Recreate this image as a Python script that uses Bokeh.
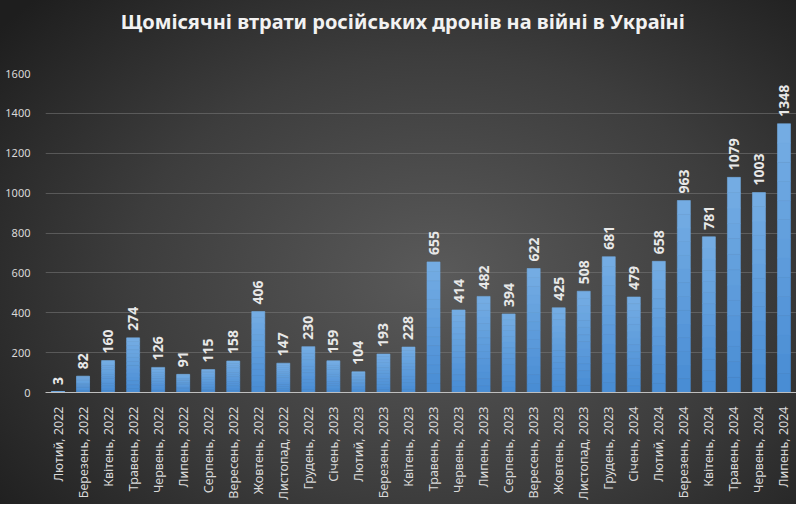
import math
from bokeh.plotting import figure
from bokeh.models import ColumnDataSource, FactorRange, Range1d, FixedTicker, Title
from bokeh.core.properties import value
from bokeh.embed import file_html
from bokeh.resources import INLINE

months = ["Лютий, 2022", "Березень, 2022", "Квітень, 2022", "Травень, 2022", "Червень, 2022",
          "Липень, 2022", "Серпень, 2022", "Вересень, 2022", "Жовтень, 2022", "Листопад, 2022",
          "Грудень, 2022", "Січень, 2023", "Лютий, 2023", "Березень, 2023", "Квітень, 2023",
          "Травень, 2023", "Червень, 2023", "Липень, 2023", "Серпень, 2023", "Вересень, 2023",
          "Жовтень, 2023", "Листопад, 2023", "Грудень, 2023", "Січень, 2024", "Лютий, 2024",
          "Березень, 2024", "Квітень, 2024", "Травень, 2024", "Червень, 2024", "Липень, 2024"]
losses = [3, 82, 160, 274, 126, 91, 115, 158, 406, 147,
          230, 159, 104, 193, 228, 655, 414, 482, 394, 622,
          425, 508, 681, 479, 658, 963, 781, 1079, 1003, 1348]
y_ticks = [0, 200, 400, 600, 800, 1000, 1200, 1400, 1600]
title_text = "Щомісячні  втрати  російських  дронів  на  війні  в  Україні"

FONT = "Noto Sans"

p = figure(width=796, height=504, x_range=FactorRange(*months, range_padding=0),
           y_range=Range1d(0, 1600), output_backend="svg", toolbar_location=None, title=None,
           min_border_left=45, min_border_right=0, min_border_top=73, min_border_bottom=112)
p.styles = {"background": "radial-gradient(ellipse 70% 80% at 55% 55%, #5a5a5a 0%, #3d3d3d 55%, #1e1e1e 100%)"}
p.background_fill_alpha = 0
p.border_fill_alpha = 0
p.outline_line_color = None

# spacer between frame and title, then the title itself
p.add_layout(Title(text=" ", text_font_size="33px", standoff=0), "above")
p.add_layout(Title(text=title_text, align="center", text_color="#f2f2f2",
                   text_font=FONT, text_font_size="20px", text_font_style="bold",
                   standoff=0), "above")

# gradient bars built from stacked slices
N = 14
c_bot = (0x48, 0x8c, 0xd4)
c_top = (0x76, 0xae, 0xe4)
xs, bots, tops, cols = [], [], [], []
for m, v in zip(months, losses):
    for k in range(N):
        t = (k + 0.5) / N
        r = int(c_bot[0] + (c_top[0] - c_bot[0]) * t)
        g = int(c_bot[1] + (c_top[1] - c_bot[1]) * t)
        b = int(c_bot[2] + (c_top[2] - c_bot[2]) * t)
        xs.append(m)
        bots.append(v * k / N)
        tops.append(v * (k + 1) / N)
        cols.append("#%02x%02x%02x" % (r, g, b))
p.vbar(x=xs, bottom=bots, top=tops, width=0.52, fill_color=cols, line_color=cols, line_width=0.6)

src = ColumnDataSource(dict(x=months, y=losses, t=[str(v) for v in losses]))
p.text(x="x", y="y", text="t", source=src, angle=math.pi / 2, text_align="left",
       text_baseline="middle", y_offset=-7, text_color="#e8e8e8",
       text_font=value(FONT), text_font_size="14px", text_font_style="bold")

# axes
p.xgrid.grid_line_color = None
p.ygrid.grid_line_color = "#7a7a7a"
p.ygrid.grid_line_alpha = 0.55
p.ygrid.ticker = FixedTicker(ticks=y_ticks)

p.yaxis.ticker = FixedTicker(ticks=y_ticks)
p.yaxis.axis_line_color = None
p.yaxis.major_tick_line_color = None
p.yaxis.minor_tick_line_color = None
p.yaxis.major_label_text_color = "#d9d9d9"
p.yaxis.major_label_text_font = FONT
p.yaxis.major_label_text_font_size = "11px"
p.yaxis.major_label_standoff = 9

p.xaxis.axis_line_color = "#bfbfbf"
p.xaxis.axis_line_width = 1
p.xaxis.major_tick_line_color = None
p.xaxis.minor_tick_line_color = None
p.xaxis.major_label_orientation = math.pi / 2
p.xaxis.major_label_text_color = "#d9d9d9"
p.xaxis.major_label_text_font = FONT
p.xaxis.major_label_text_font_size = "12.5px"
p.xaxis.major_label_standoff = 8

html = file_html(p, INLINE)
html = html.replace("<body>", '<body style="background:#1f1f1f">', 1)
open("out.html", "w").write(html)
